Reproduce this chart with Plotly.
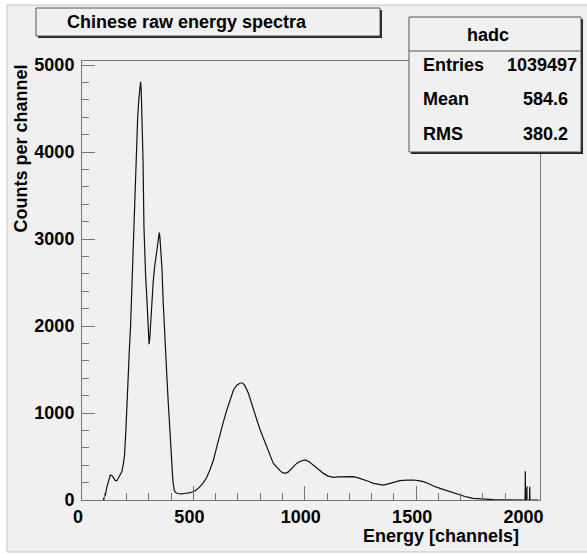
import plotly.graph_objects as go

# ---- data ----
channels = [95, 105, 112, 120, 127, 135, 142, 150, 157, 164, 172, 179, 186, 191, 197,
            202, 208, 213, 218, 224, 230, 235, 240, 245, 250, 255, 259, 263, 266, 270,
            274, 278, 282, 286, 290, 294, 298, 301, 304, 308, 314, 320, 326, 332, 338,
            344, 347, 350, 354, 359, 364, 369, 375, 381, 387, 393, 398, 403, 408, 414,
            420, 430, 445, 460, 486, 510, 530, 545, 560, 575, 590, 605, 620, 635, 650,
            665, 680, 695, 710, 720, 730, 747, 760, 770, 785, 800, 815, 830, 845, 859,
            875, 889, 900, 912, 925, 934, 950, 964, 980, 1001, 1020, 1039, 1060, 1084,
            1105, 1128, 1150, 1173, 1195, 1218, 1240, 1263, 1285, 1308, 1330, 1352,
            1383, 1405, 1427, 1460, 1487, 1510, 1532, 1555, 1577, 1607, 1637, 1666,
            1696, 1726, 1756, 1786, 1816, 1846, 1876, 1906, 1940, 1989, 1990, 1991,
            1996, 1997, 1998, 2009, 2010, 2011, 2048]
counts = [0, 60, 153, 230, 287, 280, 245, 222, 222, 255, 290, 326, 420, 520, 800,
          1150, 1500, 1750, 2000, 2450, 2850, 3250, 3700, 4150, 4400, 4600, 4750, 4806, 4700, 4300,
          3900, 3150, 2780, 2550, 2380, 2200, 1950, 1790, 1850, 2050, 2300, 2520, 2680, 2800, 2900,
          3020, 3073, 3010, 2870, 2660, 2300, 1990, 1700, 1420, 1130, 843, 600, 383, 220, 115,
          85, 75, 70, 75, 84, 110, 153, 200, 262, 350, 460, 610, 766, 900, 1034,
          1150, 1264, 1320, 1345, 1345, 1320, 1226, 1130, 1034, 920, 805, 700, 613, 510, 421,
          370, 337, 315, 306, 320, 345, 385, 421, 445, 460, 440, 402, 350, 306,
          275, 261, 265, 268, 268, 268, 255, 238, 215, 192, 178, 172,
          192, 210, 222, 228, 230, 222, 211, 190, 161, 133, 107, 82,
          57, 35, 19, 12, 8, 4, 2, 1, 0, 0, 330, 0,
          0, 153, 0, 0, 153, 0, 0]

x_tickvals = [0, 500, 1000, 1500, 2000]
x_ticklabels = ["0", "500", "1000", "1500", "2000"]
y_tickvals = [0, 1000, 2000, 3000, 4000, 5000]
y_ticklabels = ["0", "1000", "2000", "3000", "4000", "5000"]

title_text = "Chinese raw energy spectra"
hist_name = "hadc"
stat_names = ["Entries", "Mean", "RMS"]
stat_values = ["1039497", "584.6", "380.2"]
x_title = "Energy [channels]"
y_title = "Counts per channel"

# ---- geometry ----
W, H = 587, 554
L, R, T, B = 82, 540, 61, 500
PW, PH = R - L, B - T
FONT = "Liberation Sans, Arial, Helvetica, sans-serif"
BG = "#f0f0f0"
FRAME = "#767676"


def px(x):
    return (x - L) / PW


def py(y):
    return (B - y) / PH


fig = go.Figure()
fig.add_trace(go.Scatter(x=channels, y=counts, mode="lines",
                         line=dict(color="#111111", width=1.2),
                         hoverinfo="x+y", showlegend=False))

axis_common = dict(showline=True, mirror=True, linecolor=FRAME, linewidth=1,
                   showgrid=False, zeroline=False, ticks="inside", tickcolor=FRAME,
                   tickwidth=1,
                   tickfont=dict(family=FONT, size=18, color="black", weight="bold"))

fig.update_xaxes(range=[0, 2056], tickvals=x_tickvals, ticktext=x_ticklabels,
                 ticklen=14, ticklabelshift=-4, ticklabelstandoff=0,
                 minor=dict(dtick=100, tick0=0, ticklen=7, ticks="inside", tickcolor=FRAME),
                 **axis_common)
fig.update_yaxes(range=[0, 5046], tickvals=y_tickvals, ticktext=y_ticklabels,
                 ticklen=13, ticklabelstandoff=3,
                 minor=dict(dtick=200, tick0=0, ticklen=7, ticks="inside", tickcolor=FRAME),
                 **axis_common)

shapes = []
# canvas area
shapes.append(dict(type="rect", xref="paper", yref="paper", layer="below",
                   x0=px(7), x1=px(590), y0=py(552), y1=py(5),
                   fillcolor=BG, line=dict(color="#c4c4c4", width=1)))
# title box with shadow
shapes.append(dict(type="rect", xref="paper", yref="paper", layer="above",
                   x0=px(38), x1=px(382), y0=py(38), y1=py(10),
                   fillcolor="#222222", line=dict(width=0)))
shapes.append(dict(type="rect", xref="paper", yref="paper", layer="above",
                   x0=px(36), x1=px(380), y0=py(36), y1=py(8),
                   fillcolor=BG, line=dict(color="#555555", width=1)))
# stats box with shadow
shapes.append(dict(type="rect", xref="paper", yref="paper", layer="above",
                   x0=px(411), x1=px(583), y0=py(154), y1=py(19),
                   fillcolor="#222222", line=dict(width=0)))
shapes.append(dict(type="rect", xref="paper", yref="paper", layer="above",
                   x0=px(409), x1=px(581), y0=py(152), y1=py(17),
                   fillcolor=BG, line=dict(color="#555555", width=1)))
shapes.append(dict(type="line", xref="paper", yref="paper", layer="above",
                   x0=px(409), x1=px(581), y0=py(51), y1=py(51),
                   line=dict(color="#555555", width=1)))

annotations = []


def txt(text, x, y, xanchor="left", yanchor="middle", size=18, angle=0):
    annotations.append(dict(text=text, x=px(x), y=py(y), xref="paper", yref="paper",
                            xanchor=xanchor, yanchor=yanchor, showarrow=False,
                            textangle=angle,
                            font=dict(family=FONT, size=size, color="black", weight="bold")))


txt(title_text, 65, 22)
txt(hist_name, 488, 35, xanchor="center")
row_y = [65, 99.5, 134]
val_right = [579, 570, 570]
for name, val, yy, xr in zip(stat_names, stat_values, row_y, val_right):
    txt(name, 421, yy)
    txt(val, xr, yy, xanchor="right")
txt(x_title, 521, 536, xanchor="right")
txt(y_title, 20.5, 149, xanchor="center", angle=-90)

fig.update_layout(width=W, height=H, margin=dict(l=L, r=W - R, t=T, b=H - B),
                  paper_bgcolor="white", plot_bgcolor="rgba(0,0,0,0)",
                  shapes=shapes, annotations=annotations, showlegend=False)

fig.write_html("out.html", config={"displayModeBar": False},
               post_script="document.body.style.margin='0';document.body.style.overflow='hidden';")
